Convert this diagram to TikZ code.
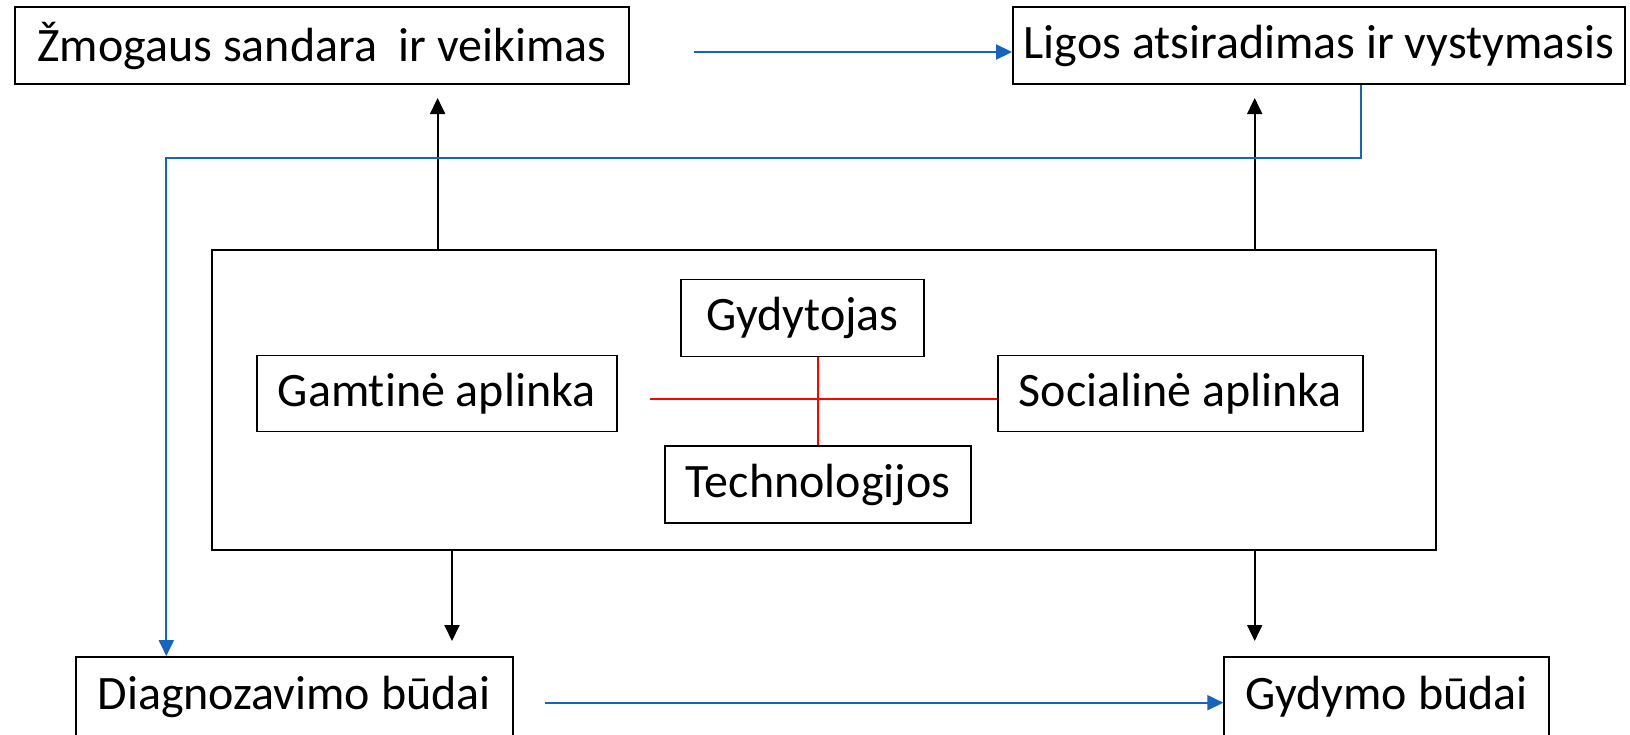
\documentclass[tikz,border=0pt]{standalone}
\usepackage{fontspec}
\setmainfont{Carlito}[Ligatures=NoCommon]
\usetikzlibrary{arrows.meta}
\definecolor{linkblue}{RGB}{21,101,192}
\begin{document}
\begin{tikzpicture}[x=1pt,y=-1pt,
  box/.style={draw=black,line width=1.9pt,rectangle,inner sep=0pt,
    font=\fontsize{48}{54}\selectfont},
  blk/.style={line width=1.9pt,-{Triangle[length=16pt,width=15pt]}},
  blu/.style={draw=linkblue,line width=1.9pt,-{Triangle[length=16pt,width=15pt]}},
  redl/.style={draw=red,line width=1.5pt}]
\useasboundingbox (0,0) rectangle (1630,734);
\fill[white] (0,0) rectangle (1630,734);
\clip (0,0) rectangle (1630,734);
% top boxes
\node[box,minimum width=614pt,minimum height=77pt] (zm) at (322,45.7) {Žmogaus sandara\ \ ir veikimas};
\node[box,minimum width=612pt,minimum height=77pt] (li) at (1319,45.7) {Ligos atsiradimas ir vystymasis};
% central frame
\node[draw=black,line width=1.9pt,rectangle,minimum width=1224pt,minimum height=300pt,inner sep=0pt] (frame) at (824.3,399.8) {};
\node[box,minimum width=243pt,minimum height=77pt] (gy) at (802.5,318) {Gydytojas\ };
\node[box,minimum width=360pt,minimum height=76pt] (ga) at (436.6,393.5) {Gamtinė aplinka};
\node[box,minimum width=365pt,minimum height=76pt] (so) at (1180.4,393.5) {Socialinė aplinka};
\node[box,minimum width=306pt,minimum height=77pt] (te) at (818,484.5) {Technologijos};
% bottom boxes
\node[box,minimum width=437pt,minimum height=80pt] (di) at (294.2,697) {Diagnozavimo būdai};
\node[box,minimum width=325pt,minimum height=80pt] (gd) at (1386.8,697) {Gydymo būdai};
% red cross
\coordinate (rl) at (650,399);
\draw[redl] (rl) -- (rl -| so.west);
\draw[redl] (te.north) -- (te.north |- gy.south);
% black arrows
\draw[blk] (437.6,0 |- frame.north) -- (437.6,98);
\draw[blk] (1254.7,0 |- frame.north) -- (1254.7,98);
\draw[blk] (452,0 |- frame.south) -- (452,641);
\draw[blk] (1254.7,0 |- frame.south) -- (1254.7,641);
% blue connectors
\coordinate (ta) at (694,52);
\draw[blu] (ta) -- (ta -| li.west);
\coordinate (ba) at (544.7,702.7);
\draw[blu] (ba) -- (ba -| gd.west);
\draw[blu] (1360.7,0 |- li.south) -- (1360.7,158) -- (166.3,158) -- (166.3,0 |- di.north);
\end{tikzpicture}
\end{document}
